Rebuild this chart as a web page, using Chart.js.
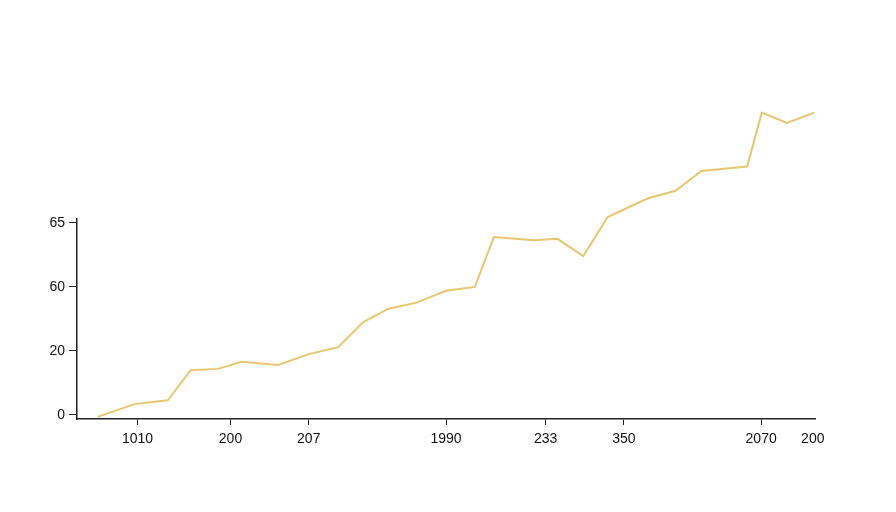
<!DOCTYPE html>
<html>
<head>
<meta charset="utf-8">
<script src="https://cdn.jsdelivr.net/npm/chart.js@4/dist/chart.umd.min.js"></script>
<style>
  html, body { margin: 0; padding: 0; background: #fff; }
  canvas { display: block; }
</style>
</head>
<body>
<canvas id="chart" width="896" height="512"></canvas>
<script>
// Series (x in axis units 0..100, y in tick-step units)
const xValues = [2.8, 7.8, 12.3, 15.4, 19.1, 22.3, 27.3, 31.4, 35.4, 38.8, 42.2, 45.9, 50.0,
                 53.9, 56.5, 61.9, 65.1, 68.6, 71.9, 77.3, 81.1, 84.6, 90.8, 92.8, 96.2, 99.9];
const yValues = [-0.03, 0.17, 0.23, 0.70, 0.72, 0.83, 0.78, 0.95, 1.06, 1.45, 1.66, 1.75, 1.94,
                 2.00, 2.78, 2.73, 2.75, 2.48, 3.09, 3.38, 3.50, 3.81, 3.88, 4.72, 4.56, 4.72];

// Tick positions and their labels
const xTickValues = [8.2, 20.8, 31.4, 50.0, 63.5, 74.1, 92.7, 99.7];
const xTickLabels = ['1010', '200', '207', '1990', '233', '350', '2070', '200'];
const yTickValues = [0, 1, 2, 3];
const yTickLabels = ['0', '20', '60', '65'];

const axisColor = '#222';
const tickFont = { family: "'Liberation Sans', Arial, Helvetica, sans-serif", size: 14 };

const ctx = document.getElementById('chart').getContext('2d');
new Chart(ctx, {
    type: 'line',
    data: {
        datasets: [{
            data: xValues.map((x, i) => ({ x: x, y: yValues[i] })),
            borderColor: 'rgb(232,198,112)',
            borderWidth: 2,
            pointRadius: 0,
            tension: 0,
            fill: false,
            clip: false
        }]
    },
    options: {
        responsive: false,
        animation: false,
        devicePixelRatio: 1,
        layout: { padding: { top: 219, right: 81, left: 0, bottom: 0 } },
        plugins: {
            legend: { display: false },
            tooltip: { enabled: false }
        },
        scales: {
            x: {
                type: 'linear',
                min: 0,
                max: 100,
                afterBuildTicks: axis => { axis.ticks = xTickValues.map(v => ({ value: v })); },
                afterFit: scale => { scale.height = 93; },
                border: { display: true, color: axisColor, width: 1.5 },
                grid: {
                    drawOnChartArea: false,
                    drawTicks: true,
                    tickLength: 6,
                    tickColor: c => c.index === xTickValues.length - 1 ? 'rgba(0,0,0,0)' : axisColor
                },
                ticks: {
                    autoSkip: false,
                    maxRotation: 0,
                    padding: 6,
                    color: '#111',
                    font: tickFont,
                    callback: (v, i) => xTickLabels[i]
                }
            },
            y: {
                type: 'linear',
                min: -0.0625,
                max: 3.06,
                afterBuildTicks: axis => { axis.ticks = yTickValues.map(v => ({ value: v })); },
                afterFit: scale => { scale.width = 77; },
                border: { display: true, color: axisColor, width: 1.5 },
                grid: {
                    drawOnChartArea: false,
                    drawTicks: true,
                    tickLength: 8,
                    tickColor: axisColor
                },
                ticks: {
                    padding: 4,
                    color: '#111',
                    font: tickFont,
                    callback: (v, i) => yTickLabels[i]
                }
            }
        }
    }
});
</script>
</body>
</html>
